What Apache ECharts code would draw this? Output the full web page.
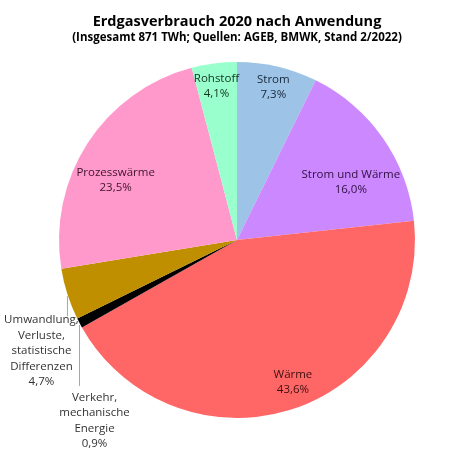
<!DOCTYPE html>
<html>
<head>
<meta charset="utf-8">
<script src="https://cdn.jsdelivr.net/npm/echarts@6/dist/echarts.min.js"></script>
<style>
  html, body { margin: 0; padding: 0; background: #fff; }
  #chart { width: 474px; height: 474px; }
</style>
</head>
<body>
<div id="chart"></div>
<script>
// Anteile am Erdgasverbrauch 2020 (Prozent), im Uhrzeigersinn ab 12 Uhr
var names = ['Strom', 'Strom und Wärme', 'Wärme', 'Verkehr,\nmechanische\nEnergie',
             'Umwandlung,\nVerluste,\nstatistische\nDifferenzen', 'Prozesswärme', 'Rohstoff'];
var values = [7.3, 16.0, 43.6, 0.9, 4.7, 23.5, 4.1];
var colors = ['#9dc3e6', '#cc88ff', '#ff6666', '#000000', '#bf8f00', '#ff99cc', '#99ffcc'];
var textColors = ['#17273b', '#2f0f40', '#3d1010', '#333333', '#333333', '#3d1429', '#10321f'];
// welche Beschriftung wo sitzt: 0 = aussen, 1 = innen weit, 2 = innen näher
var labelKind = [1, 2, 1, 0, 0, 2, 1];

var CX = 237, CY = 240, R = 178;

var chart = echarts.init(document.getElementById('chart'));

function pct(v) { return v.toFixed(1).replace('.', ',') + '%'; }

var total = values.reduce(function (a, b) { return a + b; }, 0);
// Randpunkt in der Mitte eines Segments
function edgePoint(i) {
  var before = 0;
  for (var k = 0; k < i; k++) before += values[k];
  var a = (before + values[i] / 2) / total * Math.PI * 2;
  return [CX + Math.sin(a) * R, CY - Math.cos(a) * R];
}

// Versatz der Aussenbeschriftung gegenueber dem Randpunkt
var outside = {
  3: { dx: 15, len: 63, ty: 67 },
  4: { dx: -26, len: 22, ty: 18 }
};
// Feinkorrektur der Innenbeschriftungen (px)
var nudge = {
  0: [0, 3],
  1: [4, 19],
  2: [7, -10],
  5: [-9, 13],
  6: [0, 5]
};

var font = '"Open Sans", "Noto Sans", sans-serif';

function sliceData(kindShown) {
  return values.map(function (v, i) {
    return {
      name: names[i],
      value: v,
      itemStyle: { color: kindShown === 0 ? colors[i] : 'rgba(0,0,0,0)' },
      label: {
        show: labelKind[i] === kindShown,
        color: textColors[i]
      }
    };
  });
}

var baseLabel = {
  fontFamily: font,
  fontSize: 11.5,
  lineHeight: 15.5,
  align: 'center',
  formatter: function (p) { return p.name + '\n' + pct(p.value); }
};

function nudgeLayout(p) {
  var n = nudge[p.dataIndex] || [0, 0];
  return { dx: n[0], dy: n[1] };
}

chart.setOption({
  backgroundColor: '#fff',
  animation: false,
  title: {
    text: 'Erdgasverbrauch 2020 nach Anwendung',
    subtext: '(Insgesamt 871 TWh; Quellen: AGEB, BMWK, Stand 2/2022)',
    left: 'center',
    top: 9,
    itemGap: 3,
    textStyle: { fontFamily: font, fontSize: 14.5, fontWeight: 'bold', color: '#000' },
    subtextStyle: { fontFamily: font, fontSize: 11.5, fontWeight: 'bold', color: '#000' }
  },
  series: [
    {
      type: 'pie',
      center: [CX, CY],
      radius: [0, R],
      startAngle: 90,
      clockwise: true,
      avoidLabelOverlap: false,
      silent: true,
      itemStyle: { borderWidth: 0 },
      data: sliceData(0),
      label: Object.assign({ position: 'outside' }, baseLabel),
      labelLine: { show: true, length: 10, length2: 0, lineStyle: { color: '#a6a6a6', width: 1 } },
      labelLayout: function (p) {
        var o = outside[p.dataIndex];
        if (!o) return {};
        var s = edgePoint(p.dataIndex);
        return {
          x: s[0] + o.dx,
          y: s[1] + o.ty,
          align: 'center',
          verticalAlign: 'top',
          labelLinePoints: [[s[0], s[1] + 2], [s[0], s[1] + o.len], [s[0], s[1] + o.len]]
        };
      }
    },
    {
      type: 'pie',
      center: [CX, CY],
      radius: [136, R],
      startAngle: 90,
      silent: true,
      avoidLabelOverlap: false,
      data: sliceData(1),
      label: Object.assign({ position: 'inside' }, baseLabel),
      labelLine: { show: false },
      labelLayout: nudgeLayout
    },
    {
      type: 'pie',
      center: [CX, CY],
      radius: [84, R],
      startAngle: 90,
      silent: true,
      avoidLabelOverlap: false,
      data: sliceData(2),
      label: Object.assign({ position: 'inside' }, baseLabel),
      labelLine: { show: false },
      labelLayout: nudgeLayout
    }
  ]
});
</script>
</body>
</html>
